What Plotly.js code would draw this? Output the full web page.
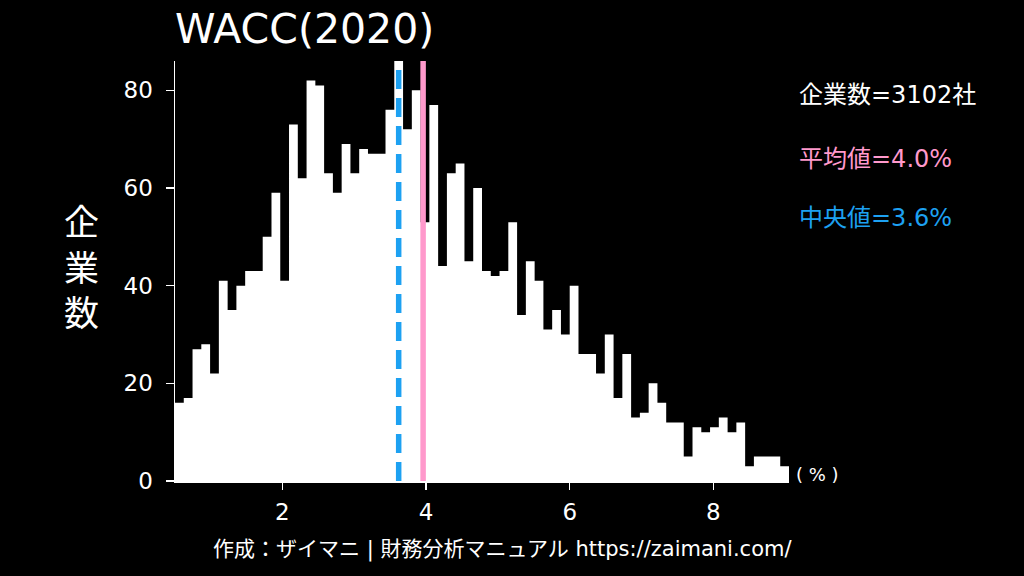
<!DOCTYPE html>
<html>
<head>
<meta charset="utf-8">
<script src="https://cdn.plot.ly/plotly-3.0.1.min.js"></script>
<style>
html, body { margin: 0; padding: 0; background: #000; }
#chart { width: 1024px; height: 576px; }
</style>
</head>
<body>
<div id="chart"></div>
<script>
// histogram of WACC (2020), 70 bins between binMin and binMax
var binMin = 0.507
var binMax = 9.052
var counts = [
	16,17,27,28,22,41,35,40,43,43,
	50,59,41,73,62,82,81,63,59,69,
	63,68,67,67,76,86,72,80,53,77,
	44,63,65,45,60,43,42,43,53,34,
	45,41,31,35,30,40,26,26,22,30,
	17,26,13,14,20,16,12,12,5,11,
	10,11,13,10,12,3,5,5,5,3
]
var companies = 3102
var meanVal = 3.96
var medianVal = 3.62
var xTicks = [2,4,6,8]
var yTicks = [0,20,40,60,80]

// latin glyphs from DejaVu (wide digits), kanji/kana fall back to Noto CJK
var font = '"DejaVu Sans", "Noto Sans CJK JP", sans-serif'
var pink = '#ff99cc'
var blue = '#1da1f2'

// bin edges -> step outline (hv), filled down to zero: no seams between bins
var binW = (binMax - binMin) / counts.length
var edges = []
var heights = []
for (var i = 0; i < counts.length; i++) {
	edges.push(binMin + binW * i)
	heights.push(counts[i])
}
edges.push(binMax)
heights.push(counts[counts.length - 1])
var yTop = Math.max.apply(null, counts)

var hist = {
	type: 'scatter',
	mode: 'lines',
	x: edges,
	y: heights,
	line: {shape: 'hv', width: 0, color: '#ffffff'},
	fill: 'tozeroy',
	fillcolor: '#ffffff',
	hoverinfo: 'skip'
}

var layout = {
	width: 1024,
	height: 576,
	paper_bgcolor: '#000000',
	plot_bgcolor: '#000000',
	margin: {l: 175, r: 235, t: 61, b: 95},
	showlegend: false,
	font: {family: font, color: '#ffffff'},
	title: {
		text: 'WACC(2020)',
		font: {family: font, size: 41, color: '#ffffff'},
		xref: 'container', yref: 'container',
		x: 175 / 1024, xanchor: 'left',
		y: 1 - 29 / 576, yanchor: 'middle'
	},
	xaxis: {
		range: [binMin, binMax],
		tickvals: xTicks,
		ticks: 'outside', ticklen: 7, tickwidth: 1.5, tickcolor: '#ffffff',
		ticklabelstandoff: 3,
		showline: true, linecolor: '#ffffff', linewidth: 1.5,
		showgrid: false, zeroline: false,
		tickfont: {family: font, size: 23, color: '#ffffff'}
	},
	yaxis: {
		range: [0, yTop],
		tickvals: yTicks,
		ticks: 'outside', ticklen: 8, tickwidth: 1.5, tickcolor: '#ffffff',
		ticklabelstandoff: 8,
		showline: true, linecolor: '#ffffff', linewidth: 1.5,
		showgrid: false, zeroline: false,
		tickfont: {family: font, size: 23, color: '#ffffff'}
	},
	shapes: [
		{type: 'line', xref: 'x', yref: 'y', x0: medianVal, x1: medianVal, y0: 0, y1: yTop,
			line: {color: blue, width: 5.5, dash: '19px,9px'}},
		{type: 'line', xref: 'x', yref: 'y', x0: meanVal, x1: meanVal, y0: 0, y1: yTop,
			line: {color: pink, width: 5.5}}
	],
	annotations: [
		{text: '企<br>業<br>数', xref: 'paper', yref: 'paper', x: (82 - 175) / 614, y: 0.505,
			xanchor: 'center', yanchor: 'middle', showarrow: false,
			font: {family: font, size: 35, color: '#ffffff'}},
		{text: '企業数=' + companies + '社', xref: 'paper', yref: 'paper', x: 1.013, y: 0.919,
			xanchor: 'left', yanchor: 'middle', showarrow: false,
			font: {family: font, size: 24, color: '#ffffff'}},
		{text: '平均値=' + meanVal.toFixed(1) + '%', xref: 'paper', yref: 'paper', x: 1.013, y: 0.767,
			xanchor: 'left', yanchor: 'middle', showarrow: false,
			font: {family: font, size: 24, color: pink}},
		{text: '中央値=' + medianVal.toFixed(1) + '%', xref: 'paper', yref: 'paper', x: 1.013, y: 0.627,
			xanchor: 'left', yanchor: 'middle', showarrow: false,
			font: {family: font, size: 24, color: blue}},
		{text: '( % )', xref: 'paper', yref: 'paper', x: 1.008, y: 0.015,
			xanchor: 'left', yanchor: 'middle', showarrow: false,
			font: {family: font, size: 18, color: '#ffffff'}},
		{text: '作成：ザイマニ | 財務分析マニュアル https://zaimani.com/', xref: 'paper', yref: 'paper',
			x: (502 - 175) / 614, y: -(549 - 481) / 420,
			xanchor: 'center', yanchor: 'middle', showarrow: false,
			font: {family: font, size: 21, color: '#ffffff'}}
	]
}

Plotly.newPlot('chart', [hist], layout, {displayModeBar: false, staticPlot: true})
</script>
</body>
</html>
